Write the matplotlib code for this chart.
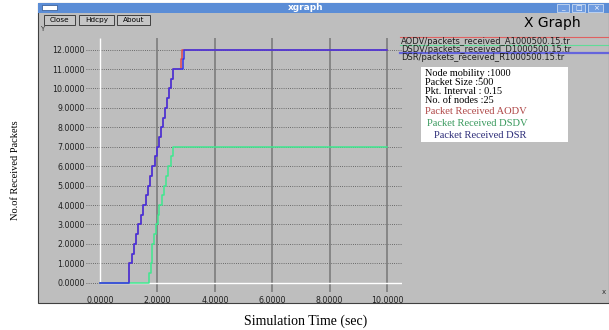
"""
xgraph 截图复刻：AODV / DSDV / DSR 收包数随仿真时间变化
"""
import matplotlib
matplotlib.use("Agg")
import matplotlib.pyplot as plt
from matplotlib.patches import Rectangle
from matplotlib.lines import Line2D

# ---------------------------------------------------------------------------
# 数据（从截图读出）
# ---------------------------------------------------------------------------
aodv_t = [0.0, 1.02, 1.10, 1.18, 1.25, 1.33, 1.42, 1.51, 1.59, 1.67, 1.74, 1.81,
          1.90, 1.98, 2.05, 2.11, 2.19, 2.26, 2.33, 2.41, 2.48, 2.55, 2.81, 2.87, 10.0]
aodv_y = [0, 1, 1.5, 2, 2.5, 3, 3.5, 4, 4.5, 5, 5.5, 6,
          6.5, 7, 7.5, 8, 8.5, 9, 9.5, 10, 10.5, 11, 11.5, 12, 12]

dsr_t = [0.0, 1.02, 1.10, 1.18, 1.25, 1.33, 1.42, 1.51, 1.59, 1.67, 1.74, 1.81,
         1.90, 1.98, 2.05, 2.11, 2.19, 2.26, 2.33, 2.41, 2.48, 2.55, 2.90, 2.94, 10.0]
dsr_y = [0, 1, 1.5, 2, 2.5, 3, 3.5, 4, 4.5, 5, 5.5, 6,
         6.5, 7, 7.5, 8, 8.5, 9, 9.5, 10, 10.5, 11, 11.5, 12, 12]

dsdv_t = [0.0, 1.72, 1.77, 1.80, 1.82, 1.88, 1.95, 2.01, 2.07, 2.17, 2.24, 2.31,
          2.38, 2.47, 2.55, 10.0]
dsdv_y = [0, 0.5, 1, 1.5, 2, 2.5, 3, 3.5, 4, 4.5, 5, 5.5, 6, 6.5, 7, 7]

x_ticks = [0, 2, 4, 6, 8, 10]
y_ticks = list(range(13))

trace_files = ["AODV/packets_received_A1000500.15.tr",
               "DSDV/packets_received_D1000500.15.tr",
               "DSR/packets_received_R1000500.15.tr"]
info_lines = ["Node mobility :1000", "Packet Size :500",
              "Pkt. Interval : 0.15", "No. of nodes :25"]
proto_labels = ["Packet Received AODV", "Packet Received DSDV", "Packet Received DSR"]

# ---------------------------------------------------------------------------
# 画布与像素换算
# ---------------------------------------------------------------------------
W, H = 609, 330
fig = plt.figure(figsize=(W / 100, H / 100), dpi=100)
fig.patch.set_facecolor("white")


def fx(px):
    return px / W


def fy(py):
    return 1 - py / H


def box(x0, y0, x1, y1, **kw):
    r = Rectangle((fx(x0), fy(y1)), fx(x1) - fx(x0), fy(y0) - fy(y1),
                  transform=fig.transFigure, **kw)
    fig.add_artist(r)
    return r


SANS = "DejaVu Sans"
SERIF = "Liberation Serif"
GRAY = "#bebebe"

# ------- 窗口外框 -------
box(38, 3, 609, 303, facecolor=GRAY, edgecolor="#404040", lw=0.8, zorder=0)
box(38, 3, 609, 13, facecolor="#5b8dd6", edgecolor="none", zorder=1)
box(42, 5, 57, 10, facecolor="white", edgecolor="#2a4f8a", lw=0.5, zorder=2)
fig.text(fx(306), fy(8), "xgraph", color="white", fontsize=6.5, fontweight="bold",
         family=SANS, ha="center", va="center", zorder=3)
for (a, b), g in zip([(557, 569), (572, 585), (588, 603)], ["_", "□", "×"]):
    box(a, 4, b, 12, facecolor="#6f9ce0", edgecolor="#dfe9f7", lw=0.5, zorder=2)
    fig.text(fx((a + b) / 2), fy(8), g, color="white", fontsize=5,
             family=SANS, ha="center", va="center", zorder=3)

# 按钮
for (a, b), lab in zip([(44, 75), (79, 114), (117, 150)], ["Close", "Hdcpy", "About"]):
    box(a, 15, b, 25, facecolor="#c6c6c6", edgecolor="#404040", lw=0.7, zorder=2)
    fig.text(fx((a + b) / 2), fy(20), lab, fontsize=5.2, family=SANS,
             ha="center", va="center", zorder=3)

fig.text(fx(552), fy(23), "X Graph", fontsize=10, family=SANS,
         ha="center", va="center")
fig.text(fx(42), fy(29), "Y", fontsize=5, family=SANS, ha="center", va="center",
         color="#303030")
fig.text(fx(604), fy(292), "x", fontsize=5, family=SANS, ha="center", va="center",
         color="#303030")

# ---------------------------------------------------------------------------
# 主坐标系
# ---------------------------------------------------------------------------
ax = fig.add_axes([fx(86), fy(292), fx(402) - fx(86), fy(38) - fy(292)])
ax.set_facecolor("none")
ax.set_xlim(-0.488, 10.52)
ax.set_ylim(-0.479, 12.60)
for s in ax.spines.values():
    s.set_visible(False)

ax.set_xticks(x_ticks)
ax.set_xticklabels([f"{v:.4f}" for v in x_ticks])
ax.set_yticks(y_ticks)
ax.set_yticklabels([f"{v:.4f}" for v in y_ticks])
ax.tick_params(axis="both", length=0, labelsize=5.7, colors="#202020")
ax.tick_params(axis="y", pad=0.7)
ax.tick_params(axis="x", pad=3.0)
for t in ax.get_xticklabels() + ax.get_yticklabels():
    t.set_family(SANS)

# 网格：水平虚点线，竖直灰实线，零轴白线
for v in y_ticks:
    ax.axhline(v, color="#505050", lw=0.6, ls=(0, (1, 1.6)), zorder=1)
for v in x_ticks[1:]:
    ax.axvline(v, color="#7c7c7c", lw=1.2, zorder=1)
ax.vlines(0, 0, 12.60, color="white", lw=1.0, zorder=2)
ax.hlines(0, 0, 10.52, color="white", lw=1.0, zorder=2)

# 曲线
ax.step(aodv_t, aodv_y, where="post", color="#e24a4a", lw=1.1, zorder=3)
ax.step(dsdv_t, dsdv_y, where="post", color="#3ee88e", lw=1.1, zorder=4)
ax.step(dsr_t, dsr_y, where="post", color="#3434ee", lw=1.1, zorder=5)

# ---------------------------------------------------------------------------
# 右上角文件图例
# ---------------------------------------------------------------------------
leg_colors = ["#e06060", "#60dc98", "#6464dc"]
leg_lw = [0.8, 0.8, 1.6]
for i, (name, c) in enumerate(zip(trace_files, leg_colors)):
    yl = 37 + 8.2 * i
    fig.add_artist(Line2D([fx(400), fx(609)], [fy(yl), fy(yl)], color=c,
                          lw=leg_lw[i], transform=fig.transFigure))
    fig.text(fx(401), fy(yl + 4.3), name, fontsize=6.0, family=SANS,
             color="#202020", ha="left", va="center")

# 参数说明框
box(421, 67, 568, 142, facecolor="white", edgecolor="none", zorder=1)
for i, line in enumerate(info_lines):
    fig.text(fx(425), fy(73 + 9.1 * i), line, fontsize=7.4, family=SERIF,
             ha="left", va="center", zorder=2)
proto_colors = ["#b04848", "#3a9a5e", "#2c2c78"]
for lab, c, xx, yy in zip(proto_labels, proto_colors, [425, 427, 434], [111, 123, 135]):
    fig.text(fx(xx), fy(yy), lab, fontsize=7.6, family=SERIF, color=c,
             ha="left", va="center", zorder=2)

# 轴标题（窗口外）
fig.text(fx(16), fy(170), "No.of Received Packets", rotation=90, fontsize=7.5,
         family=SERIF, ha="center", va="center")
fig.text(fx(306), fy(321), "Simulation Time (sec)", fontsize=10, family=SERIF,
         ha="center", va="center")

fig.savefig("out.png", dpi=100)
